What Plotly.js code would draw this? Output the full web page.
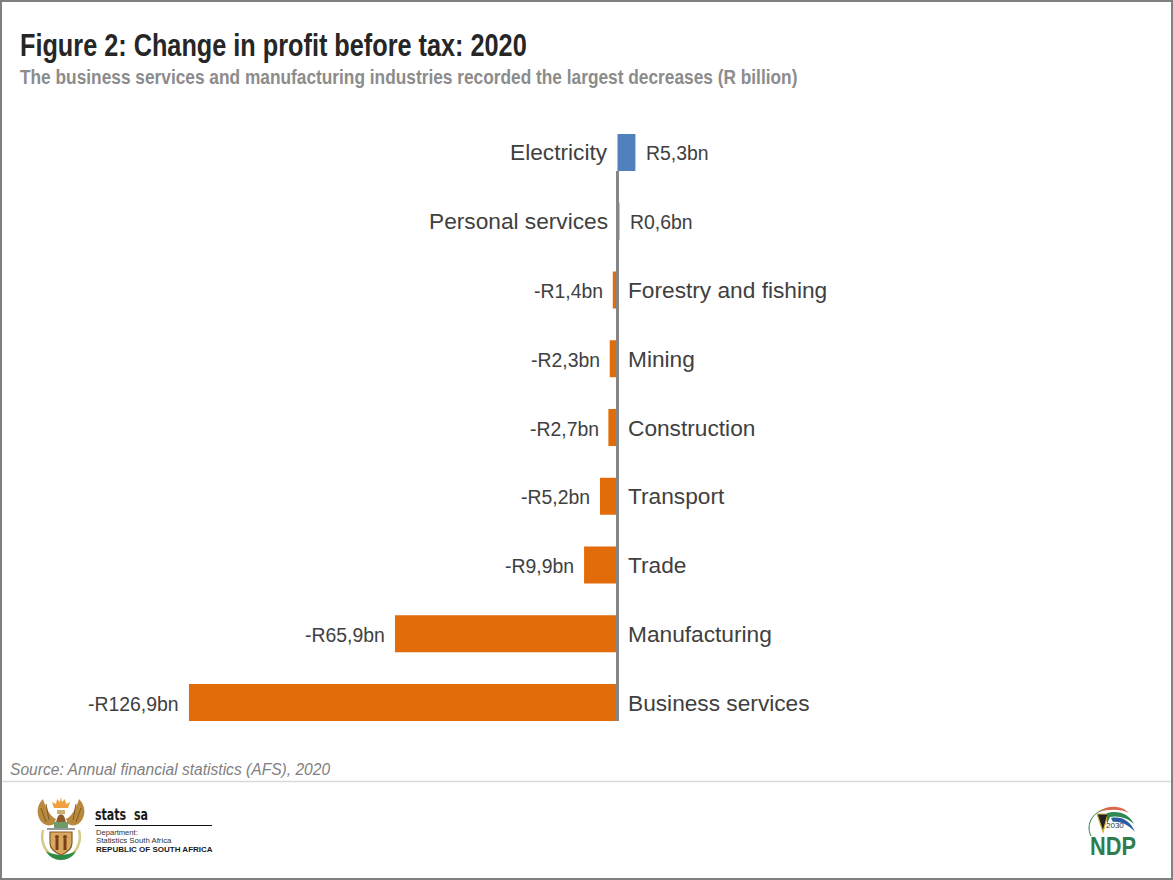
<!DOCTYPE html>
<html>
<head>
<meta charset="utf-8">
<script src="https://cdn.plot.ly/plotly-3.0.1.min.js"></script>
<style>html,body{margin:0;padding:0;background:#fff}#chart{width:1173px;height:880px}</style>
</head>
<body>
<div id="chart"></div>
<script>
const industries = ["Electricity","Personal services","Forestry and fishing","Mining","Construction","Transport","Trade","Manufacturing","Business services"];
const changes = [5.3,0.6,-1.4,-2.3,-2.7,-5.2,-9.9,-65.9,-126.9];
const valueLabels = ["R5,3bn","R0,6bn","-R1,4bn","-R2,3bn","-R2,7bn","-R5,2bn","-R9,9bn","-R65,9bn","-R126,9bn"];
const barColours = ["#4f81bd","#97867c","#e36c0a","#e36c0a","#e36c0a","#e36c0a","#e36c0a","#e36c0a","#e36c0a"];

const W=1173,H=880,L=20,R=20,T=134,B=159;
const pw=W-L-R, ph=H-T-B;
const px=x=>(x-L)/pw, py=y=>1-(y-T)/ph;
const zeroPx=617.5, pxPerUnit=3.377;
const xRange=[(L-zeroPx)/pxPerUnit,(W-R-zeroPx)/pxPerUnit];

const arms = `<svg xmlns="http://www.w3.org/2000/svg" viewBox="0 0 48 66" width="144" height="198">
<path d="M17 12 L15 6 L19 8 L20 3 L23 6 L24 1 L25 6 L28 3 L29 8 L33 6 L31 12Z" fill="#f0a040"/>
<path d="M6 3 C0 9 -1 17 3 24 C6 29 12 31 17 28 L19 23 C14 21 9 13 6 3Z" fill="#b98a3e"/>
<path d="M42 3 C48 9 49 17 45 24 C42 29 36 31 31 28 L29 23 C34 21 39 13 42 3Z" fill="#b98a3e"/>
<path d="M9 8 L12 24 M4 12 L9 26 M39 8 L36 24 M44 12 L39 26" stroke="#7d5a28" stroke-width="1"/>
<path d="M19 28 C20 15 28 15 29 28Z" fill="#8c5a2b"/>
<path d="M20 14 H28 V18 H20Z" fill="#c9b070"/>
<path d="M6 34 C3 46 8 60 24 63 C40 60 45 46 42 34" fill="none" stroke="#d8c98a" stroke-width="2.5"/>
<path d="M9 55 C15 67 33 67 39 55 C31 60 17 60 9 55Z" fill="#2e8b45"/>
<path d="M10 33 H38" stroke="#333" stroke-width="1"/>
<path d="M17 26 H31 V32 H17Z" fill="#6f9a6a"/>
<path d="M13 36 H35 V47 C35 54 29 57 24 59 C19 57 13 54 13 47Z" fill="#d8a860" stroke="#8a5a25" stroke-width="1.2"/>
<circle cx="20" cy="41" r="2" fill="#7a3f18"/><circle cx="28" cy="41" r="2" fill="#7a3f18"/>
<path d="M20 43 V54 M28 43 V54" stroke="#7a3f18" stroke-width="3"/>
</svg>`;
const ndp = `<svg xmlns="http://www.w3.org/2000/svg" viewBox="0 0 54 40" width="162" height="120">
<path d="M6 30 C0 18 8 3 27 2" fill="none" stroke="#2f7d4f" stroke-width="1"/>
<path d="M14 6 C22 -1 36 -1 44 7 C36 3 24 3 14 6Z" fill="#d9694a"/>
<path d="M12 8 H23 L18 26Z" fill="#222" stroke="#d9b23c" stroke-width="1.2"/>
<path d="M22 7 C34 4 44 8 49 18 C43 12 33 9 25 11 L22 18Z" fill="#2f8a50"/>
<path d="M26 12 C36 10 45 14 50 26 C44 19 35 15 28 16Z" fill="#2b5aa0"/>
</svg>`;
const svgUri=s=>"data:image/svg+xml;charset=utf-8,"+encodeURIComponent(s);

const catAnnotations = industries.map((c,i)=>({
  x:0,y:c,xref:"x",yref:"y",text:c,showarrow:false,
  xanchor:changes[i]>0?"right":"left",
  xshift:changes[i]>0?-7.8:8.2,yshift:0,
  font:{family:"Liberation Sans, Arial, sans-serif",size:22.7,color:"#404040"}
}));
const valAnnotations = valueLabels.map((t,i)=>({
  x:changes[i],y:industries[i],xref:"x",yref:"y",text:t,showarrow:false,
  xanchor:changes[i]>0?"left":"right",
  xshift:changes[i]>0?8.2:-7.8,yshift:-1,
  font:{family:"Liberation Sans, Arial, sans-serif",size:19.4,color:"#404040"}
}));
const note=(x,y,text,size,color,family,extra)=>Object.assign({
  x:px(x),y:py(y),xref:"paper",yref:"paper",text,showarrow:false,xanchor:"left",yanchor:"middle",
  font:{size,color,family},align:"left"
},extra||{});
const sans="Liberation Sans, Arial, sans-serif";

const titleText="Figure 2: Change in profit before tax: 2020";
const subText="The business services and manufacturing industries recorded the largest decreases (R billion)";
const statsText="stats  sa";
const ndpText="NDP";
// [left edge px, width px] of the condensed headings in the reference
const fitted={[titleText]:[20,507],[subText]:[20,778],[statsText]:[95,53],[ndpText]:[1090,46]};

const layout={
  width:W,height:H,showlegend:false,
  paper_bgcolor:"#fff",plot_bgcolor:"#fff",
  margin:{l:L,r:R,t:T,b:B,pad:0},
  bargap:0.462,
  xaxis:{range:xRange,visible:false,fixedrange:true},
  yaxis:{type:"category",categoryorder:"array",categoryarray:industries,
    range:[8.269,-0.269],showticklabels:false,ticks:"",showgrid:false,zeroline:false,showline:false},
  annotations:[
    note(18,45,"<b>"+titleText+"</b>",31,"#262626",sans),
    note(18,77,"<b>"+subText+"</b>",20,"#8c8c8c",sans),
    note(8,769,"<i>Source: Annual financial statistics (AFS), 2020</i>",15.6,"#7f7f7f",sans),
    note(93,815,"<b>"+statsText+"</b>",15,"#1a1a1a","DejaVu Sans, sans-serif"),
    note(93.5,832,"Department:",7.6,"#333",sans),
    note(93.5,840.5,"Statistics South Africa",7.8,"#333",sans),
    note(93.5,849,"<b>REPUBLIC OF SOUTH AFRICA</b>",8,"#1a1a1a",sans),
    note(1113,846,"<b>"+ndpText+"</b>",26,"#2f7d4f",sans,{xanchor:"center"}),
    note(1115,825.5,"2030",8,"#333",sans,{xanchor:"center"}),
    ...catAnnotations,...valAnnotations
  ],
  shapes:[
    {type:"line",xref:"x",yref:"y",x0:0,x1:0,y0:0.269,y1:8.269,layer:"above",line:{color:"#868686",width:3}},
    {type:"line",xref:"paper",yref:"paper",x0:px(0),x1:px(W),y0:py(781.5),y1:py(781.5),line:{color:"#d9d9d9",width:1.5}},
    {type:"line",xref:"paper",yref:"paper",x0:px(95),x1:px(212),y0:py(825.5),y1:py(825.5),line:{color:"#111",width:1}},
    {type:"rect",xref:"paper",yref:"paper",x0:px(1),x1:px(W-1),y0:py(1),y1:py(H-1),line:{color:"#808080",width:2},fillcolor:"rgba(0,0,0,0)"}
  ],
  images:[
    {source:svgUri(arms),xref:"paper",yref:"paper",x:px(37),y:py(796),sizex:48/pw,sizey:66/ph,xanchor:"left",yanchor:"top",sizing:"stretch",layer:"above"},
    {source:svgUri(ndp),xref:"paper",yref:"paper",x:px(1085),y:py(806),sizex:54/pw,sizey:40/ph,xanchor:"left",yanchor:"top",sizing:"stretch",layer:"below"}
  ]
};
const data=[{type:"bar",orientation:"h",y:industries,x:changes,marker:{color:barColours,line:{width:0}},hoverinfo:"none",cliponaxis:false}];
Plotly.newPlot("chart",data,layout,{displayModeBar:false,staticPlot:true}).then(()=>{
  const origin=document.getElementById("chart").getBoundingClientRect().left;
  document.querySelectorAll("#chart .annotation-text").forEach(el=>{
    const fit=fitted[el.textContent];
    if(!fit) return;
    const b=el.getBBox();
    const r=el.getBoundingClientRect();
    const k=fit[1]/b.width;
    const dx=fit[0]-(r.left-origin);
    el.setAttribute("transform",`translate(${b.x+dx},0) scale(${k},1) translate(${-b.x},0)`);
  });
});
</script>
</body>
</html>
